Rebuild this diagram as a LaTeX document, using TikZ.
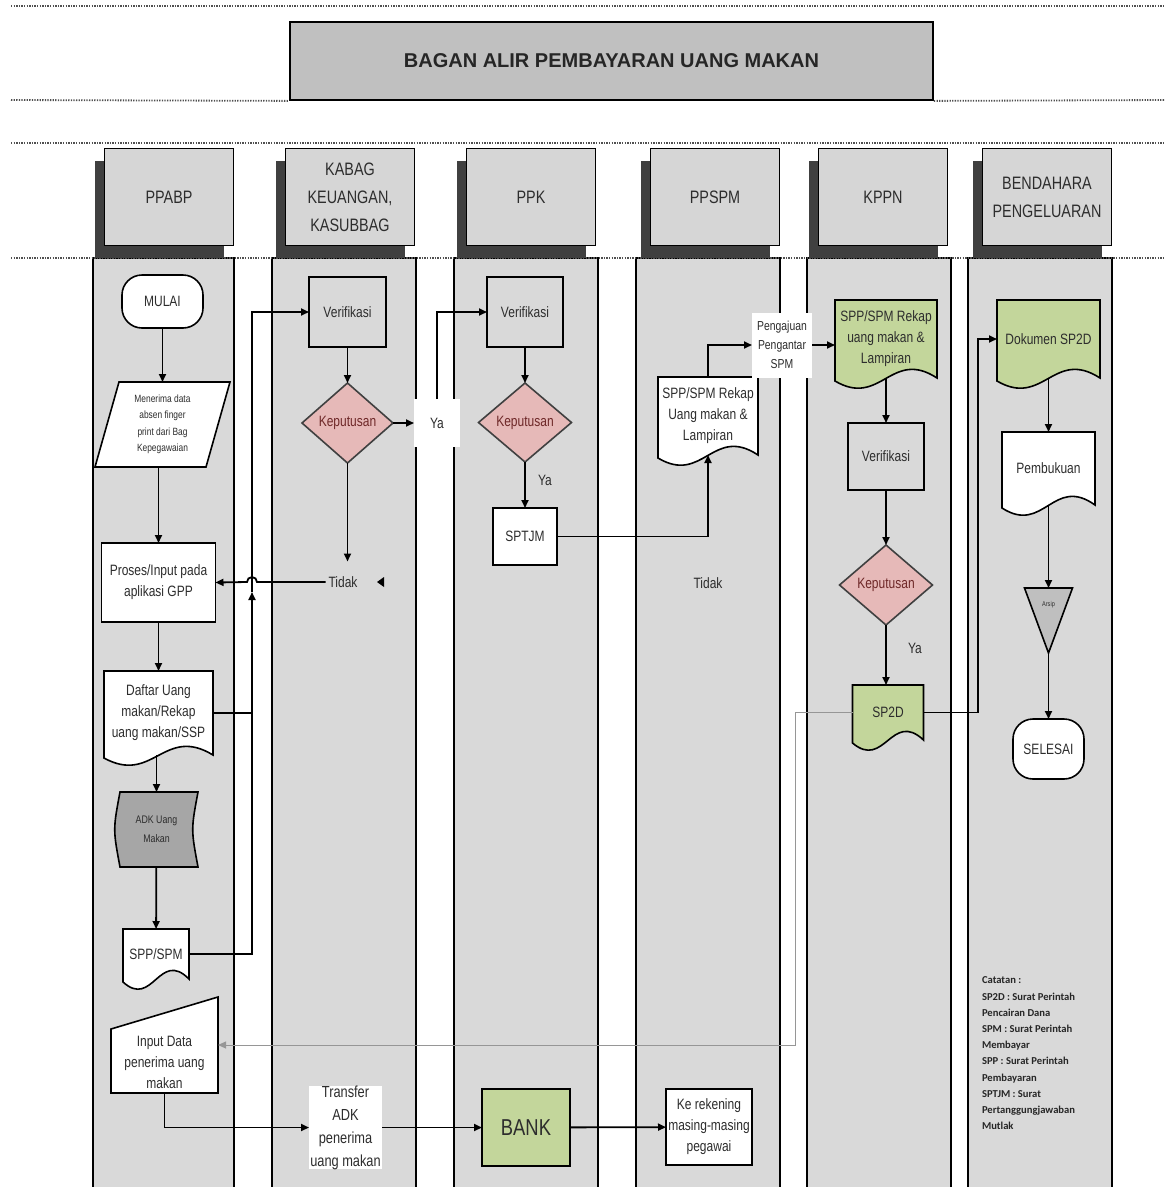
\documentclass[tikz,border=0pt]{standalone}
\usepackage{fontspec}
\setmainfont{Liberation Sans}[FakeStretch=0.8]
\newfontfamily\titlefont{Liberation Sans}
\newfontfamily\notefont{Carlito}
\usepackage{tikz}
\usepackage{xcolor}
\usetikzlibrary{arrows.meta, positioning, calc, shapes.geometric, backgrounds, shadows}
\definecolor{laneGray}{RGB}{217,217,217}
\definecolor{headGray}{RGB}{214,214,214}
\definecolor{titleGray}{RGB}{192,192,192}
\definecolor{shadowGray}{RGB}{64,64,64}
\definecolor{ruleGray}{RGB}{80,80,80}
\definecolor{docGreen}{RGB}{195,214,155}
\definecolor{decPink}{RGB}{230,185,184}
\definecolor{decText}{RGB}{110,40,40}
\definecolor{adkGray}{RGB}{166,166,166}
\definecolor{arsipGray}{RGB}{191,191,191}
\definecolor{textGray}{RGB}{45,45,45}
\definecolor{greyLine}{RGB}{150,150,150}

% outlines drawn behind the text of a node
\newcommand{\docwave}[2]{%
  \begin{scope}[on background layer]
    \filldraw[shapeline, fill=#2] (#1.north west) -- (#1.north east) -- (#1.south east)
      .. controls ($(#1.south east)!0.45!(#1.south west)+(0pt,30pt)$)
      and ($(#1.south west)!0.45!(#1.south east)+(0pt,-30pt)$) .. ($(#1.south west)+(0pt,-3pt)$) -- cycle;
  \end{scope}}
\newcommand{\storedshape}[2]{%
  \begin{scope}[on background layer]
    \filldraw[shapeline, fill=#2] ($(#1.north west)+(5,0)$) -- (#1.north east)
      .. controls ($(#1.east)+(-7,0)$) .. (#1.south east) -- ($(#1.south west)+(5,0)$)
      .. controls ($(#1.west)+(-2,0)$) .. ($(#1.north west)+(5,0)$) -- cycle;
  \end{scope}}
\newcommand{\slantshape}[2]{%
  \begin{scope}[on background layer]
    \filldraw[shapeline, fill=#2] ($(#1.north west)+(24,0)$) -- (#1.north east)
      -- ($(#1.south east)+(-24,0)$) -- (#1.south west) -- cycle;
  \end{scope}}
\newcommand{\maninshape}[2]{%
  \begin{scope}[on background layer]
    \filldraw[shapeline, fill=#2] ($(#1.north west)+(0,32)$) -- (#1.north east)
      -- (#1.south east) -- (#1.south west) -- cycle;
  \end{scope}}
\newcommand{\arsipshape}[2]{%
  \begin{scope}[on background layer]
    \filldraw[shapeline, fill=#2] (#1.north west) -- (#1.north east) -- (#1.south) -- cycle;
  \end{scope}}

\begin{document}
\begin{tikzpicture}[x=1pt, y=-1pt,
    >={Triangle[length=8pt,width=7pt]},
    lane/.style={draw=black, line width=2pt, fill=laneGray},
    rulerline/.style={draw=ruleGray, line width=1.8pt, dash pattern=on 1.3pt off 1.3pt},
    head/.style={draw=black, line width=1.6pt, fill=headGray, minimum width=129,
      minimum height=97, align=center, inner sep=0pt, text=textGray,
      font=\fontsize{18}{28}\selectfont,
      drop shadow={shadow xshift=-10pt, shadow yshift=-12pt, opacity=1, fill=shadowGray}},
    base/.style={align=center, inner sep=0pt, outer sep=0pt, text=textGray,
      font=\fontsize{15}{21}\selectfont},
    proc/.style={base, draw=black, line width=1.6pt},
    term/.style={proc, fill=white, rounded corners=20pt},
    dec/.style={base, diamond, aspect=1, draw=black!75, line width=1.6pt,
      fill=decPink, text=decText},
    lbl/.style={base, inner sep=3pt},
    shapeline/.style={draw=black, line width=1.6pt},
    flow/.style={->, line width=1.8pt, draw=black},
    plainline/.style={line width=1.8pt, draw=black},
    greyflow/.style={->, line width=0.9pt, draw=greyLine}]

  \useasboundingbox (0,0) rectangle (1165,1187);

  % swim lanes
  \begin{scope}[on background layer]
    \foreach \l/\r in {93/234, 272/416, 454/598, 636/780, 807/951, 968/1112}
      \draw[lane] (\l,258) rectangle (\r,1195);
  \end{scope}

  % title and rulers
  \node[draw=black, line width=1.8pt, fill=titleGray, minimum width=643, minimum height=78,
        font=\titlefont\bfseries\fontsize{20}{24}\selectfont, text=black!85] (title) at (611.5,61)
    {BAGAN ALIR PEMBAYARAN UANG MAKAN};
  \draw[rulerline] (11,6) -- (1165,6);
  \draw[rulerline] (11,100) -- (title.south west);
  \draw[rulerline] (title.south east) -- (1165,100);
  \draw[rulerline] (11,143) -- (1165,143);
  \draw[rulerline] (11,258) -- (1165,258);

  % lane headers
  \node[head] (hppabp) at (169,197) {PPABP};
  \node[head] (hkabag) at (350,197) {KABAG\\KEUANGAN,\\KASUBBAG};
  \node[head] (hppk)   at (531,197) {PPK};
  \node[head] (hppspm) at (715,197) {PPSPM};
  \node[head] (hkppn)  at (883,197) {KPPN};
  \node[head] (hbend)  at (1047,197) {BENDAHARA\\PENGELUARAN};

  % PPABP
  \node[term, minimum width=81, minimum height=53] (mulai) at (162.5,301.5) {MULAI};
  \node[base, minimum width=135, minimum height=85, font=\fontsize{10.5}{16.5}\selectfont]
    (terima) at (162.5,424.5) {Menerima data\\absen finger\\print dari Bag\\Kepegawaian};
  \slantshape{terima}{white}
  \node[proc, fill=white, minimum width=114, minimum height=79] (proses) at (158.5,582.5)
    {Proses/Input pada\\aplikasi GPP};
  \node[base, minimum width=109, minimum height=84] (daftar) at (158.5,713)
    {Daftar Uang\\makan/Rekap\\uang makan/SSP};
  \docwave{daftar}{white}
  \node[base, minimum width=83, minimum height=75, font=\fontsize{11}{19}\selectfont]
    (adk) at (156.5,829.5) {ADK Uang\\Makan};
  \storedshape{adk}{adkGray}
  \node[base, minimum width=66, minimum height=50] (sppspm) at (156,954) {SPP/SPM};
  \docwave{sppspm}{white}
  \node[base, minimum width=107, minimum height=96,
        label={[base, yshift=-17pt]center:Input Data\\penerima uang\\makan}]
    (inputdata) at (164.5,1045) {};
  \maninshape{inputdata}{white}

  % KABAG KEUANGAN, KASUBBAG
  \node[proc, minimum width=77, minimum height=70] (verif1) at (347.5,312) {Verifikasi};
  \node[dec, minimum width=91, minimum height=80] (kep1) at (347.5,423) {Keputusan};
  \node[lbl, fill=white, minimum width=46, minimum height=48] (ya1) at (437,423) {Ya};
  \node[lbl] (tidak1) at (343,582) {Tidak};
  \node[base, fill=white, minimum width=73, minimum height=81, font=\fontsize{16}{23}\selectfont]
    (transfer) at (345.5,1127.5) {Transfer\\ADK\\penerima\\uang makan};

  % PPK
  \node[proc, minimum width=76, minimum height=70] (verif2) at (525,312) {Verifikasi};
  \node[dec, minimum width=93, minimum height=79] (kep2) at (525,422.5) {Keputusan};
  \node[lbl] (ya2) at (545,480) {Ya};
  \node[proc, fill=white, minimum width=64, minimum height=57] (sptjm) at (525,536.5) {SPTJM};
  \node[proc, fill=docGreen, minimum width=88, minimum height=77,
        font=\fontsize{23}{26}\selectfont] (bank) at (526,1127.5) {BANK};

  % PPSPM
  \node[base, minimum width=100, minimum height=78] (rekap) at (708,416)
    {SPP/SPM Rekap\\Uang makan \&\\Lampiran};
  \docwave{rekap}{white}
  \node[base, fill=white, minimum width=60, minimum height=65, font=\fontsize{13}{19}\selectfont]
    (pengantar) at (782,345) {Pengajuan\\Pengantar\\SPM};
  \node[lbl] (tidak2) at (708,583) {Tidak};
  \node[proc, fill=white, minimum width=86, minimum height=76] (rekening) at (709,1127)
    {Ke rekening\\masing-masing\\pegawai};

  % KPPN
  \node[base, minimum width=102, minimum height=78] (rekapk) at (886,339)
    {SPP/SPM Rekap\\uang makan \&\\Lampiran};
  \docwave{rekapk}{docGreen}
  \node[proc, minimum width=76, minimum height=67] (verif3) at (886,456.5) {Verifikasi};
  \node[dec, minimum width=93, minimum height=80] (kep3) at (886,585) {Keputusan};
  \node[lbl] (ya3) at (915,648) {Ya};
  \node[base, minimum width=71, minimum height=55] (sp2d) at (888,712.5) {SP2D};
  \docwave{sp2d}{docGreen}

  % BENDAHARA PENGELUARAN
  \node[base, minimum width=103, minimum height=78] (dok) at (1048.5,339) {Dokumen SP2D};
  \docwave{dok}{docGreen}
  \node[base, minimum width=93, minimum height=73] (buku) at (1048.5,468.5) {Pembukuan};
  \docwave{buku}{white}
  \node[base, minimum width=48, minimum height=65,
        label={[base, font=\fontsize{7}{8}\selectfont, yshift=16pt]center:Arsip}]
    (arsip) at (1048.5,620.5) {};
  \arsipshape{arsip}{arsipGray}
  \node[term, minimum width=71, minimum height=60] (selesai) at (1048.5,749) {SELESAI};
  \node[base, anchor=north west, align=left, text=black!85,
        font=\notefont\bfseries\fontsize{10.6}{16.2}\selectfont] (catatan) at (982,977)
    {Catatan :\\SP2D : Surat Perintah\\Pencairan Dana\\SPM : Surat Perintah\\Membayar\\
     SPP : Surat Perintah\\Pembayaran\\SPTJM : Surat\\Pertanggungjawaban\\Mutlak};

  % helper points
  \coordinate (busArr) at (252,592);
  \coordinate (greyJog) at (795,0);

  % connectors
  \draw[flow] (mulai) -- (terima);
  \draw[flow] (proses.north |- terima.south) -- (proses.north);
  \draw[flow] (proses) -- (daftar);
  \draw[flow] (adk.north |- daftar.south) -- (adk.north);
  \draw[flow] (adk) -- (sppspm);
  \draw[flow] (sppspm.east) -| (busArr);
  \draw[flow] (busArr) |- (verif1.west);
  \draw[plainline] (daftar.east) -- (daftar.east -| busArr);
  \draw[flow] (tidak1.west) -- ($(tidak1.west -| busArr)+(5,0)$)
    arc[start angle=0, end angle=180, radius=5pt] -- (proses.east);
  \fill[black] (384,577) -- (384,587) -- (377,582) -- cycle;
  \draw[flow] (verif1) -- (kep1);
  \draw[flow, shorten >=12pt] (kep1.south) -- (kep1.south |- tidak1.north);
  \draw[flow] (kep1.east) -- (ya1.west);
  \draw[flow] (ya1.north) |- (verif2.west);
  \draw[flow] (verif2) -- (kep2);
  \draw[flow] (kep2) -- (sptjm);
  \draw[flow] (sptjm.east) -| (rekap.south);
  \draw[flow] (rekap.north) |- (pengantar.west);
  \draw[flow] (pengantar.east) -- (pengantar.east -| rekapk.west);
  \draw[flow] (rekapk.south) -- (verif3.north);
  \draw[flow] (verif3) -- (kep3);
  \draw[flow] (kep3.south) -- (kep3.south |- sp2d.north);
  \draw[flow] (sp2d.east) -| ($(dok.west)+(-19,0)$) -- (dok.west);
  \draw[greyflow] (sp2d.west) -| (greyJog |- inputdata.east) -- (inputdata.east);
  \draw[flow] (inputdata.south) |- (transfer.west);
  \draw[flow] (transfer) -- (bank);
  \draw[flow] (bank) -- (rekening);
  \draw[flow] (dok.south) -- (buku.north);
  \draw[flow] (buku.south -| arsip.north) -- (arsip.north);
  \draw[flow] (arsip.south) -- (selesai.north);
\end{tikzpicture}
\end{document}
